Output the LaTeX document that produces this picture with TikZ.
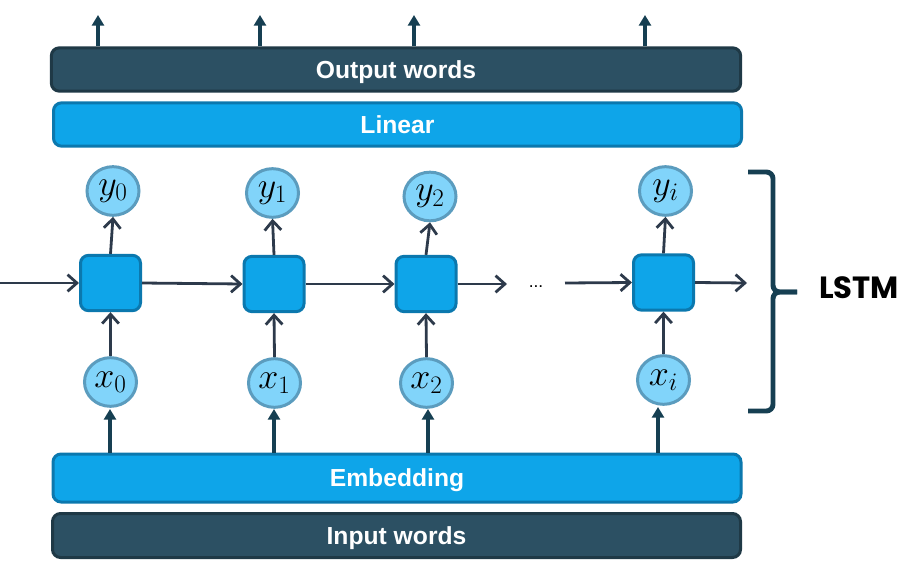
\RequirePackage{fix-cm}
\documentclass[tikz,border=0pt]{standalone}
\usepackage{fontspec}
\setmainfont{Liberation Sans}
\newfontfamily\lstmfont{Poppins}
\usetikzlibrary{arrows.meta,shapes.geometric}
\definecolor{darkfill}{HTML}{2C5063}
\definecolor{darkedge}{HTML}{1F3946}
\definecolor{bluefill}{HTML}{0EA5E9}
\definecolor{blueedge}{HTML}{0B78AE}
\definecolor{circfill}{HTML}{81D4FA}
\definecolor{circedge}{HTML}{5B9CBE}
\definecolor{arrowcol}{HTML}{2D3A4B}
\definecolor{tealcol}{HTML}{163F52}
\begin{document}
\begin{tikzpicture}[x=0.75pt,y=-0.75pt,
  bar/.style={rounded corners=6pt, line width=2.25pt, inner sep=0pt,
    text=white, font=\fontsize{18.5}{20}\selectfont\bfseries,
    text height=13.2pt, text depth=0pt},
  darkbar/.style={bar, fill=darkfill, draw=darkedge},
  bluebar/.style={bar, fill=bluefill, draw=blueedge},
  cell/.style={rounded corners=6pt, fill=bluefill, draw=blueedge, line width=2.25pt,
    minimum width=45pt, minimum height=41.5pt, inner sep=0pt},
  vec/.style={ellipse, fill=circfill, draw=circedge, line width=2.25pt,
    minimum width=39pt, minimum height=36.5pt, inner sep=0pt,
    font=\fontsize{27}{30}\selectfont},
  flow/.style={draw=arrowcol, line width=2.1pt,
    -{Straight Barb[length=7pt,width=12.5pt,line width=2.1pt]}},
  feed/.style={draw=tealcol, line width=3pt, -{Triangle[length=8pt,width=9pt]}},
  bracecol/.style={draw=tealcol, line width=3.7pt, rounded corners=5pt}
]
\useasboundingbox (0,0) rectangle (918,567);

% bars
\node[darkbar, minimum width=517pt, minimum height=32.5pt] (outw) at (396,69.5) {Output words};
\node[bluebar, minimum width=516pt, minimum height=32.5pt] (lin) at (397.5,124.5) {Linear};
\node[bluebar, minimum width=516pt, minimum height=36pt] (emb) at (397,478) {Embedding};
\node[darkbar, minimum width=516pt, minimum height=33pt] (inw) at (396.5,535.5) {Input words};

% cells
\node[cell] (c0) at (110.5,283) {};
\node[cell] (c1) at (274,284) {};
\node[cell] (c2) at (426,284) {};
\node[cell] (c3) at (663.5,282.5) {};

% outputs
\node[vec] (y0) at (113,191) {$y_0$};
\node[vec] (y1) at (272.5,193) {$y_1$};
\node[vec] (y2) at (430,196.5) {$y_2$};
\node[vec] (y3) at (665.5,191) {$y_i$};

% inputs
\node[vec] (x0) at (110.5,382) {$x_0$};
\node[vec] (x1) at (274.5,383) {$x_1$};
\node[vec] (x2) at (426.5,383) {$x_2$};
\node[vec] (x3) at (663.5,380) {$x_i$};

% dots
\node[font=\fontsize{13}{15}\selectfont] (dots) at (536,287) {...};

% horizontal flow
\coordinate (hin) at (0,283);
\coordinate (h2end) at (507,284);
\coordinate (h3start) at (565,283);
\coordinate (hout) at (747,283);
\draw[flow] (hin) -- (c0.west);
\draw[flow] (c0.east) -- (c1.west);
\draw[flow] (c1.east) -- (c2.west);
\draw[flow] (c2.east) -- (h2end);
\draw[flow] (h3start) -- (c3.west);
\draw[flow] (c3.east) -- (hout);

% vertical flow
\foreach \i in {0,1,2,3}{
  \draw[flow] (x\i.north) -- (c\i.south);
  \draw[flow] (c\i.north) -- (y\i.south);
}

% embedding -> inputs
\coordinate (e0) at (110,409);
\coordinate (e1) at (274,409);
\coordinate (e2) at (428,409);
\coordinate (e3) at (658,407);
\foreach \i in {0,1,2,3}{
  \draw[feed] (e\i |- emb.north) -- (e\i);
}

% output words -> up
\coordinate (o0) at (98,15);
\coordinate (o1) at (260,15);
\coordinate (o2) at (414,15);
\coordinate (o3) at (645,15);
\foreach \i in {0,1,2,3}{
  \draw[feed] (o\i |- outw.north) -- (o\i);
}

% brace
\coordinate (btop) at (748,172);
\coordinate (bbot) at (748,411);
\coordinate (btip) at (797,292);
\draw[bracecol] (btop) -- (773,172) -- (773,292) -- (btip);
\draw[bracecol] (btip) -- (773,292) -- (773,411) -- (bbot);

\node[font=\lstmfont\fontsize{23}{26}\selectfont\bfseries, anchor=west, inner sep=0pt] (lstm) at (819,288) {LSTM};
\end{tikzpicture}
\end{document}
